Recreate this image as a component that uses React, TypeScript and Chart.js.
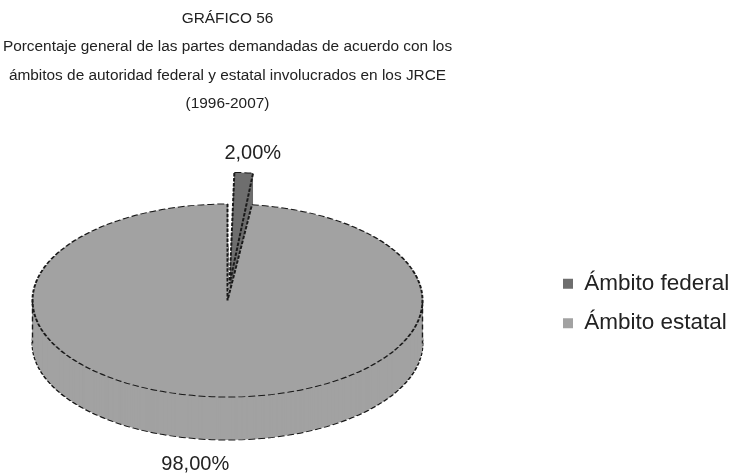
import React, { useEffect, useRef } from "react";
import { Chart, registerables } from "chart.js";

Chart.register(...registerables);

const categories = ["Ámbito federal", "Ámbito estatal"];
const percentages = [2, 98];
const percentLabels = ["2,00%", "98,00%"];
const titleLines = [
  "GRÁFICO 56",
  "Porcentaje general de las partes demandadas de acuerdo con los",
  "ámbitos de autoridad federal y estatal involucrados en los JRCE",
  "(1996-2007)",
];
const sliceColors = ["#6e6e6e", "#a2a2a2"];
const sliceOffsets = [136, 0];

const TILT = 0.495;
const DEPTH = 43;
const FONT = "'Liberation Sans', Arial, sans-serif";
const INK = "#222222";

const pie3d = {
  id: "pie3d",
  beforeDatasetsDraw(chart: any) {
    const arcs = chart.getDatasetMeta(0).data;
    if (!arcs.length) return;
    const ctx = chart.ctx;
    const cx = arcs[0].x;
    const cy = arcs[0].y;
    ctx.save();
    ctx.translate(cx, cy);
    ctx.scale(1, TILT);
    ctx.translate(-cx, -cy);
    for (let d = DEPTH; d >= 1; d -= 1) {
      ctx.save();
      ctx.translate(0, d / TILT);
      for (const arc of arcs) {
        const saved = arc.options;
        if (d !== DEPTH) arc.options = { ...saved, borderWidth: 0 };
        arc.draw(ctx);
        arc.options = saved;
      }
      ctx.restore();
    }
  },
  afterDatasetsDraw(chart: any) {
    const ctx = chart.ctx;
    ctx.restore();
    const arcs = chart.getDatasetMeta(0).data;
    if (!arcs.length) return;
    const main = arcs[1];
    ctx.save();
    ctx.strokeStyle = "#1c1c1c";
    ctx.lineWidth = 1.4;
    ctx.setLineDash([5, 3]);
    for (const s of [-1, 1]) {
      ctx.beginPath();
      ctx.moveTo(main.x + s * main.outerRadius, main.y);
      ctx.lineTo(main.x + s * main.outerRadius, main.y + DEPTH);
      ctx.stroke();
    }
    ctx.restore();

    ctx.save();
    ctx.font = `20px ${FONT}`;
    ctx.fillStyle = INK;
    ctx.textAlign = "center";
    ctx.textBaseline = "middle";
    arcs.forEach((arc: any, i: number) => {
      const a = (arc.startAngle + arc.endAngle) / 2;
      const off = (arc.options.offset || 0) / 4;
      const circ = arc.endAngle - arc.startAngle;
      const grow = off * (1 - Math.sin(Math.min(Math.PI, circ)));
      const dist = off + arc.outerRadius + grow;
      const rx = arc.x + Math.cos(a) * dist;
      let ry = arc.y + Math.sin(a) * dist * TILT;
      const below = Math.sin(a) > 0;
      if (below) ry += DEPTH;
      const lx = rx + Math.sign(Math.cos(a)) * (below ? 20 : 9);
      const ly = ry + (below ? 25 : -19);
      ctx.fillText(percentLabels[i], lx, ly);
    });
    ctx.restore();
  },
};

export default function App() {
  const ref = useRef<HTMLCanvasElement>(null);
  useEffect(() => {
    if (!ref.current) return;
    const chart = new Chart(ref.current, {
      type: "pie",
      data: {
        labels: categories,
        datasets: [
          {
            data: percentages,
            backgroundColor: sliceColors,
            borderColor: "#1a1a1a",
            borderWidth: 2,
            borderDash: [7, 3],
            offset: sliceOffsets,
            hoverOffset: 0,
            clip: false,
            radius: 195,
          } as any,
        ],
      },
      options: {
        animation: false,
        responsive: true,
        maintainAspectRatio: false,
        layout: { padding: { left: 0, right: 6, top: 0, bottom: 0 } },
        plugins: {
          title: {
            display: true,
            text: titleLines,
            fullSize: false,
            color: INK,
            font: { family: FONT, size: 15.4, weight: "normal", lineHeight: 28.5 / 15.4 },
            padding: { top: 4, bottom: 8 },
          },
          subtitle: {
            display: true,
            text: " ",
            position: "right",
            fullSize: false,
            weight: 500,
            font: { size: 1, lineHeight: 1 },
            padding: { top: 45, bottom: 45 },
          },
          legend: {
            position: "right",
            fullSize: false,
            title: { display: true, text: " ", font: { size: 5, lineHeight: 1.2 }, padding: 0 },
            labels: {
              boxWidth: 10,
              boxHeight: 10,
              padding: 17,
              color: INK,
              font: { family: FONT, size: 22.5 },
              generateLabels: () =>
                categories.map((t, i) => ({
                  text: t,
                  fillStyle: sliceColors[i],
                  strokeStyle: sliceColors[i],
                  lineWidth: 0,
                  hidden: false,
                  index: i,
                  datasetIndex: 0,
                  fontColor: INK,
                })),
            },
          },
          tooltip: { enabled: false },
        },
      } as any,
      plugins: [pie3d],
    });
    return () => chart.destroy();
  }, []);
  return (
    <div style={{ position: "fixed", left: 0, top: 0, width: 734, height: 475, background: "#ffffff" }}>
      <canvas ref={ref} />
    </div>
  );
}
